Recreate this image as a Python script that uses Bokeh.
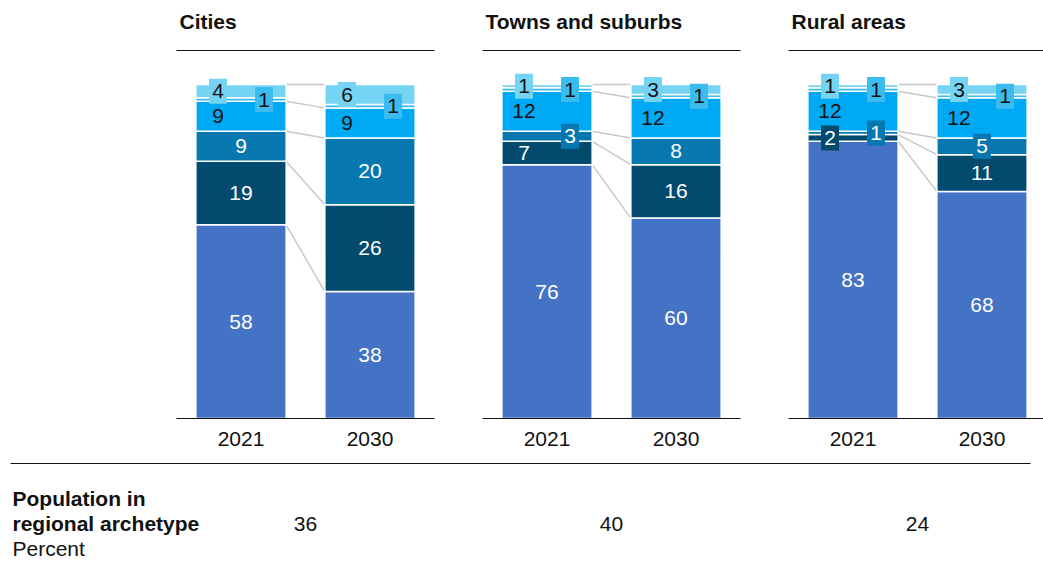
from bokeh.plotting import figure
from bokeh.models import Range1d
from bokeh.core.properties import value
from bokeh.embed import file_html
from bokeh.resources import INLINE

# ---------------- data ----------------
regions = ["Cities", "Towns and suburbs", "Rural areas"]
years = ["2021", "2030"]
population = [36, 40, 24]

# bar order: Cities 2021, Cities 2030, Towns 2021, Towns 2030, Rural 2021, Rural 2030
s1 = [58, 38, 76, 60, 83, 68]
s2 = [19, 26, 7, 16, 2, 11]
s3 = [9, 20, 3, 8, 1, 5]
s4 = [9, 9, 12, 12, 12, 12]
s5 = [1, 1, 1, 1, 1, 1]
s6 = [4, 6, 1, 3, 1, 3]
series = [s1, s2, s3, s4, s5, s6]

# ---------------- styles ----------------
colors = ["#4472C4", "#034B6E", "#0777B0", "#00A9F4", "#3CBBEF", "#75D3F3"]
text_colors = ["white", "white", "white", "#111111", "#111111", "#111111"]
placement = [
    ["C", "C", "C", "C", "C", "C"],
    ["C", "C", "L", "C", "L", "C"],
    ["C", "C", "R", "C", "R", "C"],
    ["L", "L", "L", "L", "L", "L"],
    ["R", "R", "R", "R", "R", "R"],
    ["L", "L", "L", "L", "L", "L"],
]
boxed = [
    [0, 0, 0, 0, 0, 0],
    [0, 0, 0, 0, 1, 0],
    [0, 0, 1, 0, 1, 1],
    [0, 0, 0, 0, 0, 0],
    [1, 1, 1, 1, 1, 1],
    [1, 1, 1, 1, 1, 1],
]
connector_levels = [0, 1, 2, 3, 5]

FONT = value("Liberation Sans")
FS = "21px"
W, H = 1043, 572
X0_PX = 176.0
UNIT = 129.0
BASE_PX = 418.0
PCT = 3.34
STEP = 306.0 / UNIT
BAR_W = 0.70


def xu(px):
    return (px - X0_PX) / UNIT


def yu(px):
    return (BASE_PX - px) / PCT


p = figure(width=W, height=H, output_backend="svg", toolbar_location=None,
           x_range=Range1d(xu(0), xu(W)),
           y_range=Range1d(yu(H), yu(0)),
           x_axis_location=None, y_axis_location=None, min_border=0)
p.xgrid.grid_line_color = None
p.ygrid.grid_line_color = None
p.outline_line_color = None
p.background_fill_color = "white"
p.border_fill_color = "white"

offs = [i * STEP for i in range(3)]
xs = [offs[i] + 0.5 + j for i in range(3) for j in range(2)]

# cumulative tops
cums = []
bottom = [0] * 6
for s in series:
    top = [b + v for b, v in zip(bottom, s)]
    cums.append(top)
    bottom = top

# connectors
cx0, cx1, cy0, cy1 = [], [], [], []
for i in range(3):
    for k in connector_levels:
        cx0.append(xs[2 * i] + BAR_W / 2)
        cx1.append(xs[2 * i + 1] - BAR_W / 2)
        cy0.append(cums[k][2 * i])
        cy1.append(cums[k][2 * i + 1])
p.segment(x0=cx0, y0=cy0, x1=cx1, y1=cy1, line_color="#C8C8C8", line_width=1.5)

# bars
prev = [0] * 6
for k, s in enumerate(series):
    p.vbar(x=xs, bottom=prev, top=cums[k], width=BAR_W, fill_color=colors[k],
           line_color="white", line_width=1.5)
    prev = cums[k]

# labels
shift = {"L": -23.0 / UNIT, "C": 0.0, "R": 23.0 / UNIT}
lx, ly, lt, lc = [], [], [], []
bx, by, bc = [], [], []
for k, s in enumerate(series):
    for n in range(6):
        y = cums[k][n] - s[n] / 2.0
        x = xs[n] + shift[placement[k][n]]
        lx.append(x); ly.append(y); lt.append(str(s[n])); lc.append(text_colors[k])
        if boxed[k][n]:
            bx.append(x); by.append(y); bc.append(colors[k])
p.rect(x=bx, y=by, width=18, height=25, width_units="screen", height_units="screen",
       fill_color=bc, line_color=None)
p.text(x=lx, y=ly, text=lt, text_color=lc, text_font=FONT, text_font_size=FS,
       text_align="center", text_baseline="middle")

# axes / rules / titles / years
for i in range(3):
    o = offs[i]
    p.segment(x0=[o], y0=[0], x1=[o + 2], y1=[0], line_color="#111111", line_width=1.2)
    p.segment(x0=[o], y0=[yu(50)], x1=[o + 2], y1=[yu(50)], line_color="#111111", line_width=1.2)
    p.text(x=[o + 3 / UNIT], y=[yu(21)], text=[regions[i]], text_font=FONT,
           text_font_size=FS, text_font_style="bold", text_color="#111111",
           text_align="left", text_baseline="middle")
    p.text(x=[o + 0.5, o + 1.5], y=[yu(438), yu(438)], text=years, text_font=FONT,
           text_font_size=FS, text_color="#111111", text_align="center",
           text_baseline="middle")
    p.text(x=[o + 1], y=[yu(523)], text=[str(population[i])], text_font=FONT,
           text_font_size=FS, text_color="#111111", text_align="center",
           text_baseline="middle")

# separator and bottom caption
p.segment(x0=[xu(10)], y0=[yu(463)], x1=[xu(1030)], y1=[yu(463)], line_color="#111111", line_width=1.2)
p.text(x=[xu(12), xu(12)], y=[yu(498), yu(523)], text=["Population in", "regional archetype"],
       text_font=FONT, text_font_size=FS, text_font_style="bold", text_color="#111111",
       text_align="left", text_baseline="middle")
p.text(x=[xu(12)], y=[yu(548)], text=["Percent"], text_font=FONT, text_font_size=FS,
       text_color="#111111", text_align="left", text_baseline="middle")

open("out.html", "w").write(file_html(p, INLINE))
